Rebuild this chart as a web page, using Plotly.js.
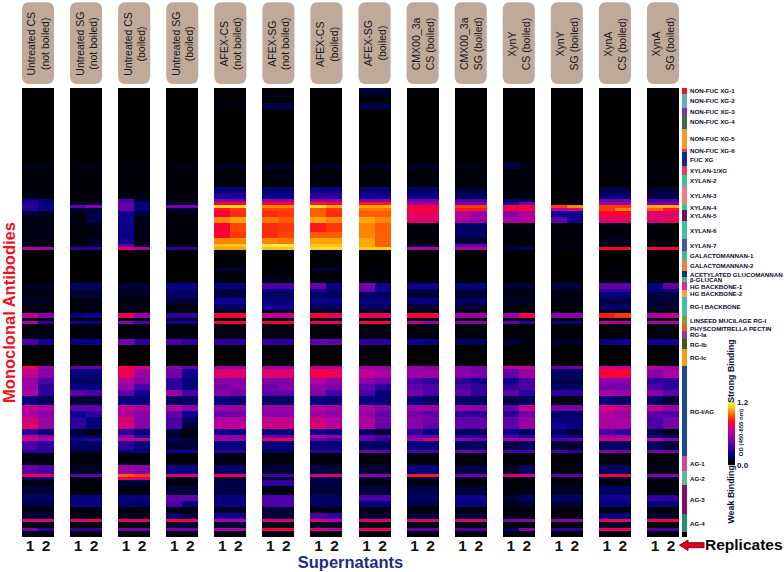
<!DOCTYPE html>
<html><head><meta charset="utf-8">
<script src="https://cdn.plot.ly/plotly-3.0.1.min.js"></script>
<style>html,body{margin:0;padding:0;background:#fff}#c{width:784px;height:572px}</style></head>
<body><div id="c"></div>
<script>
const panelNames=["Untreated CS<br>(not boiled)","Untreated SG<br>(not boiled)","Untreated CS<br>(boiled)","Untreated SG<br>(boiled)","AFEX-CS<br>(not boiled)","AFEX-SG<br>(not boiled)","AFEX-CS<br>(boiled)","AFEX-SG<br>(boiled)","CMX00_3a<br>CS (boiled)","CMX00_3a<br>SG (boiled)","XynY<br>CS (boiled)","XynY<br>SG (boiled)","XynA<br>CS (boiled)","XynA<br>SG (boiled)"];
const replicateLabels=["1","2"];
// number of antibody rows sharing each value
const bandRows=[2,1,2,2,18,2,2,1,3, 2,2,1,1,1,1,2,2,3,2,2,1,1, 6,1,2,1,1,2, 1,2,2,2,1, 2,1,1,5,2,7, 1,3,2,2,2,3,2,2,2,2,2,1,1,3,1,4, 3,1,1,2,3,2,2,2,2,1,2,1,2];
const ut_cs_nb_1=[0,0,0,0,0,.06,.02,.03,.02, .03,.05,.25,.28,.3,.28,.1,.05,.05,.05,.05,.06,.62, 0,0,0,0,0,.08, .05,.05,.08,.05,.03, .65,.05,.6,.05,.35,0, .8,.65,.55,.55,.6,.2,.65,.6,.7,.72,.3,.6,.7,.35,.3,.05, .4,.8,.2,.05,.1,.15,.12,.05,.1,.7,.05,.45,.05];
const ut_cs_nb_2=[0,0,0,0,0,.06,.02,.03,.02, .03,.05,.18,.2,.22,.2,.08,.05,.05,.05,.05,.06,.58, 0,0,0,0,0,.08, .05,.05,.08,.05,.03, .5,.05,.3,.05,.25,0, .55,.5,.35,.3,.3,.15,.6,.5,.55,.55,.2,.5,.6,.3,.3,.05, .35,.75,.2,.05,.1,.15,.12,.05,.1,.7,.05,.3,.05];
const ut_sg_nb_1=[0,0,0,0,0,.05,.01,.02,.01, .02,.03,0,.1,.4,.1,.05,.05,.03,.03,.05,.05,.3, 0,0,0,0,0,.15, .1,.1,.05,.05,.03, .2,.05,.25,.03,.2,0, .4,.2,.15,.2,.4,.1,.4,.25,.3,.3,.1,.15,.25,.15,.1,.03, .08,.4,.05,.02,.02,.2,.2,.03,.05,.7,.05,.3,.03];
const ut_sg_nb_2=[0,0,0,0,0,.05,.01,.02,.01, .02,.03,0,.1,.5,.1,.12,.12,.05,.03,.08,.08,.3, 0,0,0,0,0,.15, .1,.1,.05,.05,.03, .25,.05,.2,.03,.22,0, .4,.2,.15,.2,.35,.1,.4,.3,.2,.2,.05,.15,.3,.15,.1,.03, .08,.4,.05,.02,.02,.2,.2,.03,.05,.75,.05,.3,.03];
const ut_cs_b_1=[0,0,0,0,0,.03,.01,.02,.01, .02,.05,.35,.4,.4,.4,.25,.25,.22,.2,.25,.4,.72, 0,0,0,0,0,.1, .08,.08,.05,.05,.03, .75,.03,.5,.03,.45,0, .8,.75,.6,.55,.4,.2,.65,.6,.7,.7,.3,.5,.65,.3,.2,.03, .55,.95,.75,.1,.05,.2,.18,.03,.08,.75,.05,.45,.03];
const ut_cs_b_2=[0,0,0,0,0,.03,.01,.02,.01, .02,.05,.1,.2,.2,.2,.1,.05,.05,.05,.05,.08,.6, 0,0,0,0,0,.1, .08,.08,.05,.05,.03, .55,.03,.35,.03,.3,0, .7,.55,.5,.35,.25,.2,.6,.5,.5,.5,.2,.3,.65,.2,.2,.03, .5,.9,.7,.1,.05,.2,.15,.03,.08,.75,.05,.45,.03];
const ut_sg_b_1=[0,0,0,0,0,.05,.01,.02,.01, .02,.02,.05,.1,.45,.1,.05,.03,.03,.03,.03,.05,.3, 0,0,0,0,0,.22, .15,.15,.1,.05,.03, .3,.1,.25,.03,.35,0, .5,.45,.3,.3,.55,.15,.6,.4,.35,.35,.1,.1,.15,.1,.25,.03, .2,.7,.05,.05,.1,.4,.35,.05,.2,.8,.1,.45,.03];
const ut_sg_b_2=[0,0,0,0,0,.05,.01,.02,.01, .02,.02,.05,.1,.45,.1,.05,.03,.03,.03,.03,.05,.3, 0,0,0,0,0,.22, .15,.15,.1,.05,.03, .3,.1,.25,.03,.3,0, .4,.25,.2,.2,.35,.15,.5,.25,.15,.1,.05,.05,.1,.1,.25,.03, .2,.7,.05,.05,.1,.4,.2,.05,.1,.75,.1,.45,.03];
const af_cs_nb_1=[0,0,.02,.03,0,.08,.02,.05,.02, .2,.28,.5,.82,1.14,.85,.8,1,.8,.82,1,1.1,1.05, .02,.1,.02,.03,.02,.2, .1,.12,.25,.15,.05, .8,.05,.8,.05,.3,0, .55,.72,.5,.45,.5,.2,.55,.42,.62,.65,.25,.55,.55,.2,.3,.05, .15,.75,.1,.12,.12,.2,.2,.08,.25,.6,.1,.6,.05];
const af_cs_nb_2=[0,0,.02,.03,0,.08,.02,.05,.02, .2,.28,.45,.82,1.14,.9,.88,1.05,.92,.9,1,1.1,1.05, .02,.1,.02,.03,.02,.2, .1,.12,.25,.15,.05, .8,.05,.8,.05,.3,0, .55,.72,.5,.5,.45,.18,.55,.45,.62,.66,.2,.5,.55,.2,.3,.05, .15,.75,.1,.12,.12,.2,.2,.08,.25,.6,.1,.6,.05];
const af_sg_nb_1=[0,.08,.02,.12,0,.08,.02,.08,.02, .18,.22,.55,.8,1,.92,.88,.98,.88,.88,1,1.18,1.1, 0,.03,.02,.08,.02,.35, .2,.15,.2,.25,.05, .65,.05,.8,.05,.3,.03, .55,.72,.48,.42,.4,.16,.55,.5,.66,.68,.2,.45,.75,.2,.15,.03, .1,.35,.1,.3,.05,.35,.35,.1,.1,.7,.05,.8,.05];
const af_sg_nb_2=[0,.08,.02,.12,0,.08,.02,.08,.02, .18,.22,.55,.8,1,.92,.9,.95,.9,.92,.98,1.18,1.1, 0,.03,.02,.08,.02,.35, .2,.15,.2,.25,.05, .65,.05,.8,.05,.3,.03, .55,.72,.48,.5,.4,.16,.55,.5,.66,.68,.2,.4,.75,.2,.15,.03, .1,.35,.1,.3,.05,.35,.35,.1,.1,.7,.05,.8,.05];
const af_cs_b_1=[0,0,0,0,0,.08,.02,.05,.02, .22,.3,.55,.85,1.15,.95,.95,1.05,.85,.95,1.05,1.1,1.15, .02,.1,.02,.03,.02,.42, .25,.15,.22,.15,.05, .8,.05,.75,.03,.4,0, .6,.78,.62,.52,.48,.2,.62,.56,.68,.72,.25,.6,.4,.2,.3,.03, .12,.7,.12,.12,.1,.15,.15,.05,.35,.7,.08,.7,.05];
const af_cs_b_2=[0,0,0,0,0,.08,.02,.05,.02, .22,.3,.55,.8,1.05,.9,.88,1,.9,.95,1.05,1.1,1.15, .02,.1,.02,.03,.02,.22, .15,.15,.22,.15,.05, .75,.05,.75,.03,.4,0, .6,.76,.52,.48,.35,.18,.58,.52,.62,.65,.2,.55,.35,.2,.3,.03, .1,.7,.12,.12,.1,.15,.15,.05,.3,.65,.08,.65,.05];
const af_sg_b_1=[.1,.05,.02,.12,0,.08,.02,.05,.02, .18,.25,.5,.85,1.05,.98,.95,1.05,1,1,1.05,1.05,1.12, 0,.03,.02,.03,.02,.45, .4,.15,.2,.15,.05, .75,.05,.8,.05,.3,.02, .55,.65,.5,.4,.35,.2,.6,.55,.6,.6,.15,.4,.4,.15,.45,.03, .1,.55,.1,.05,.1,.35,.2,.05,.1,.72,.05,.75,.03];
const af_sg_b_2=[.1,.05,.02,.12,0,.08,.02,.05,.02, .18,.25,.5,.85,1.05,.98,.95,1,.95,.95,.95,.95,1.12, 0,.03,.02,.03,.02,.25, .25,.15,.2,.15,.05, .75,.05,.8,.05,.3,.02, .55,.6,.45,.3,.2,.2,.5,.4,.45,.4,.1,.35,.3,.15,.4,.03, .1,.5,.1,.05,.1,.35,.2,.05,.1,.72,.05,.75,.03];
const cmx_cs_1=[0,0,0,0,0,.08,.02,.03,.02, .15,.22,.45,.55,.8,.8,.75,.72,.02,.02,.02,.1,.6, 0,.02,0,.02,0,.25, .12,.1,.2,.1,.03, .8,.05,.65,.03,.25,0, .55,.55,.35,.4,.45,.2,.55,.45,.5,.5,.3,.45,.55,.2,.35,.03, .2,.85,.1,.05,.12,.15,.12,.03,.1,.7,.05,.4,.03];
const cmx_cs_2=[0,0,0,0,0,.08,.02,.03,.02, .15,.22,.45,.55,.8,.8,.75,.72,.02,.02,.02,.1,.6, 0,.02,0,.02,0,.25, .12,.1,.2,.1,.03, .8,.05,.55,.03,.2,0, .5,.55,.3,.35,.35,.15,.55,.4,.45,.4,.2,.4,.7,.2,.35,.03, .2,.85,.1,.05,.12,.15,.12,.03,.1,.7,.05,.4,.03];
const cmx_sg_1=[0,0,0,0,0,.06,.02,.02,.02, .1,.15,.35,.45,.9,.85,.65,.6,.15,.15,.1,.4,.6, 0,.02,0,.02,0,.2, .12,.1,.15,.1,.03, .55,.05,.5,.03,.15,0, .5,.5,.3,.35,.4,.15,.55,.3,.4,.4,.15,.3,.5,.15,.45,.03, .12,.45,.08,.03,.1,.25,.2,.03,.1,.7,.05,.35,.03];
const cmx_sg_2=[0,0,0,0,0,.06,.02,.02,.02, .1,.15,.35,.45,.9,.85,.55,.55,.15,.15,.1,.4,.6, 0,.02,0,.02,0,.2, .12,.1,.15,.1,.03, .55,.05,.5,.03,.15,0, .45,.45,.25,.3,.3,.15,.5,.3,.4,.4,.15,.3,.45,.15,.4,.03, .12,.45,.08,.03,.1,.25,.2,.03,.1,.7,.05,.35,.03];
const xyny_cs_1=[0,0,0,0,0,.12,.02,.02,.02, .03,.05,.15,.25,.8,.8,.5,.6,.02,.02,.02,.03,.12, 0,0,0,0,0,.1, .05,.05,.08,.05,.02, .55,.05,.4,.02,.1,0, .65,.4,.25,.3,.4,.12,.4,.3,.4,.4,.25,.35,.6,.12,.35,.02, .08,.7,.05,.03,.03,.1,.08,.02,.05,.45,.03,.15,.03];
const xyny_cs_2=[0,0,0,0,0,.06,.02,.02,.02, .03,.05,.15,.45,.8,.8,.6,.62,.02,.02,.02,.03,.15, 0,0,0,0,0,.1, .05,.05,.08,.05,.02, .78,.05,.3,.02,.05,0, .65,.55,.35,.35,.3,.15,.65,.45,.55,.55,.15,.3,.6,.15,.35,.02, .15,.7,.05,.03,.05,.15,.1,.02,.05,.5,.03,.5,.03];
const xyny_sg_1=[0,0,0,0,0,.03,.01,.01,.01, 0,.02,.03,.05,.9,.65,.25,.4,.02,.02,.02,.03,.05, 0,0,0,0,0,.12, .05,.04,.05,.03,.02, .5,.05,.2,.02,.08,0, .4,.15,.12,.15,.3,.05,.45,.15,.2,.25,.15,.25,.35,.1,.35,.02, .05,.4,.03,.03,.08,.15,.1,.02,.03,.5,.03,.3,.02];
const xyny_sg_2=[0,0,0,0,0,.03,.01,.01,.01, 0,.02,.03,.05,1,.7,.25,.25,.02,.02,.02,.03,.05, 0,0,0,0,0,.12, .05,.04,.05,.03,.02, .5,.05,.2,.02,.08,0, .45,.15,.12,.15,.3,.05,.45,.15,.2,.2,.1,.2,.4,.1,.3,.02, .05,.4,.03,.03,.08,.15,.1,.02,.03,.5,.03,.3,.02];
const xyna_cs_1=[0,0,0,0,0,.03,.01,.03,.01, .12,.18,.45,.55,.9,.9,.82,.72,.03,.03,.08,.03,.82, 0,.02,.02,.02,.02,.4, .3,.2,.12,.15,.05, .85,.05,.65,.02,.2,0, .7,.8,.5,.45,.6,.2,.7,.6,.6,.6,.35,.55,.7,.15,.5,.03, .15,.8,.1,.03,.15,.25,.2,.03,.2,.75,.08,.75,.03];
const xyna_cs_2=[0,0,0,0,0,.03,.01,.03,.01, .12,.2,.45,.55,.9,1,.82,.72,.03,.03,.08,.03,.82, 0,.02,.02,.02,.02,.4, .3,.2,.12,.15,.05, .9,.05,.6,.02,.25,0, .65,.8,.5,.45,.55,.15,.65,.55,.6,.6,.3,.55,.7,.15,.45,.03, .15,.8,.1,.03,.15,.25,.2,.03,.2,.75,.08,.75,.03];
const xyna_sg_1=[0,0,0,0,0,.03,.01,.02,.01, .1,.12,.35,.45,1.05,.95,.72,.7,.02,.02,.02,.03,.8, 0,0,0,0,0,.2, .2,.12,.1,.1,.03, .6,.03,.6,.02,.25,0, .65,.5,.3,.35,.5,.15,.65,.4,.35,.35,.12,.25,.65,.15,.45,.02, .05,.5,.1,.02,.05,.3,.2,.02,.1,.78,.03,.35,.03];
const xyna_sg_2=[0,0,0,0,0,.03,.01,.02,.01, .1,.12,.35,.45,1.05,.85,.72,.75,.02,.02,.02,.03,.8, 0,0,0,0,0,.4, .2,.12,.1,.1,.03, .65,.03,.6,.02,.25,.02, .55,.6,.3,.3,.4,.1,.55,.35,.45,.45,.05,.15,.5,.1,.45,.02, .05,.5,.1,.02,.05,.3,.2,.02,.1,.78,.03,.35,.03];
const columns=[ut_cs_nb_1,ut_cs_nb_2,ut_sg_nb_1,ut_sg_nb_2,ut_cs_b_1,ut_cs_b_2,ut_sg_b_1,ut_sg_b_2,af_cs_nb_1,af_cs_nb_2,af_sg_nb_1,af_sg_nb_2,af_cs_b_1,af_cs_b_2,af_sg_b_1,af_sg_b_2,cmx_cs_1,cmx_cs_2,cmx_sg_1,cmx_sg_2,xyny_cs_1,xyny_cs_2,xyny_sg_1,xyny_sg_2,xyna_cs_1,xyna_cs_2,xyna_sg_1,xyna_sg_2];
const groupNames=["NON-FUC XG-1","NON-FUC XG-2","NON-FUC XG-3","NON-FUC XG-4","NON-FUC XG-5","NON-FUC XG-6","FUC XG","XYLAN-1/XG","XYLAN-2","XYLAN-3","XYLAN-4","XYLAN-5","XYLAN-6","XYLAN-7","GALACTOMANNAN-1","GALACTOMANNAN-2","ACETYLATED GLUCOMANNAN","β-GLUCAN","HG BACKBONE-1","HG BACKBONE-2","RG-I BACKBONE","LINSEED MUCILAGE RG-I","PHYSCOMITRELLA PECTIN","RG-Ia","RG-Ib","RG-Ic","RG-I/AG","AG-1","AG-2","AG-3","AG-4",""];
const groupRows=[1.9,4.7,2.2,4.8,6.7,1.1,4.7,2.8,4.2,5.6,2.2,3.6,6.1,3.7,3.3,3.6,2,1.7,2.5,2.5,6.4,3,1.9,2.6,3.5,5.7,29.9,5,4.8,9.7,5.9,1.6];
const groupColors=["#f01020","#5fb0b0","#a020c0","#3f6a50","#f09a30","#d04060","#102a8a","#e0405a","#3fbfa0","#f08088","#3fbfa0","#701060","#3fbfa0","#5050a0","#3fb8a0","#f0803a","#103090","#60b080","#d03090","#f0a050","#3fbfa8","#8a9a30","#f05a28","#8a3a9a","#3f5a18","#f0a010","#1c4a90","#d04a90","#60b898","#801060","#2a8a70","#000000"];

const W=784,H=572,T=87.5,B=537.5,L=22,PR=679;
const px=v=>(v-L)/(W-L), py=v=>(B-v)/(B-T);
const x=[],z=[],y=[];
for(let i=0;i<41;i++)x.push(i+.5);
let r=0;
bandRows.forEach((n,b)=>{for(let k=0;k<n;k++){y.push(r+.5);r++;
  const row=[];for(let i=0;i<41;i++){row.push(i%3===2?null:columns[(i-i%3)/3*2+i%3][b]);}
  z.push(row);}});
const tickvals=[],ticktext=[];
panelNames.forEach((_,p)=>replicateLabels.forEach((l,k)=>{tickvals.push(3*p+k+.5);ticktext.push(l);}));
const base=[];let acc=0;groupRows.forEach(n=>{base.push(acc);acc+=n;});
const shapes=panelNames.map((_,p)=>{
  const a=3*p,b=3*p+2,m=.45,t=1.5,e=83.5,ry=8;
  return{type:'path',xref:'x',yref:'paper',line:{width:0},fillcolor:'#bfa999',layer:'below',
   path:`M ${a+m} ${py(t)} L ${b-m} ${py(t)} Q ${b} ${py(t)} ${b} ${py(t+ry)} L ${b} ${py(e-ry)} Q ${b} ${py(e)} ${b-m} ${py(e)} L ${a+m} ${py(e)} Q ${a} ${py(e)} ${a} ${py(e-ry)} L ${a} ${py(t+ry)} Q ${a} ${py(t)} ${a+m} ${py(t)} Z`};
});
const pts=[[679.5,545.7],[688,540.5],[688,543.2],[704,543.2],[704,548.2],[688,548.2],[688,551]];
shapes.push({type:'path',xref:'paper',yref:'paper',fillcolor:'#e2001a',line:{color:'#7a1020',width:1},
 path:'M '+pts.map(q=>px(q[0])+' '+py(q[1])).join(' L ')+' Z'});
const ff='"Liberation Sans",Arial,sans-serif';
const ann=panelNames.map((t,p)=>({xref:'x',yref:'paper',x:3*p+1,y:py(43),xanchor:'center',yanchor:'middle',text:t,textangle:-90,showarrow:false,font:{family:ff,size:10.5,color:'#161616'},align:'center'}));
groupNames.forEach((t,i)=>{if(t)ann.push({xref:'paper',yref:'y',x:px(688),y:base[i]+groupRows[i]/2,xanchor:'left',yanchor:'middle',text:t,showarrow:false,font:{family:ff,size:6.2,weight:700,color:'#0c0c28'}});});
const lab=(t,xp,yp,size,color,rot)=>ann.push({xref:'paper',yref:'paper',x:px(xp),y:py(yp),xanchor:'center',yanchor:'middle',text:t,textangle:rot,showarrow:false,font:{family:ff,size,weight:700,color}});
lab("Replicates",743.5,545.5,15.5,'#0a0a0a',0);
lab("Strong Binding",731,371,8.8,'#10103a',-90);
lab("Weak Binding",731,495,8.9,'#10103a',-90);
lab("OD (450-655 nm)",740.5,433,6,'#10103a',-90);
const cs=[[0,'#000000'],[.06,'#00001c'],[.12,'#000060'],[.2,'#0a0090'],[.3,'#5000a8'],[.42,'#8c00a8'],[.52,'#b400a0'],[.6,'#e0006c'],[.68,'#ff0030'],[.76,'#ff4000'],[.84,'#ff8c00'],[.92,'#ffc814'],[1,'#fff050']];
Plotly.newPlot('c',[
 {type:'heatmap',x,y,z,zmin:0,zmax:1.2,colorscale:cs,hoverongaps:false,
  colorbar:{x:px(727.7),xanchor:'left',y:py(402.7),yanchor:'top',lenmode:'pixels',len:63,thicknessmode:'pixels',thickness:7.3,xpad:0,ypad:0,outlinewidth:0,borderwidth:0,ticks:'',
   tickvals:[0,1.2],ticktext:['0.0','1.2'],tickfont:{family:ff,size:8,weight:700,color:'#10103a'},ticklabelposition:'outside'}},
 {type:'bar',xaxis:'x2',yaxis:'y',x:groupRows.map(()=>.5),y:groupRows,base,width:1,marker:{color:groupColors,line:{width:0}},hoverinfo:'skip',showlegend:false}
],{
 width:W,height:H,paper_bgcolor:'#fff',plot_bgcolor:'#fff',showlegend:false,bargap:0,
 margin:{l:L,r:0,t:T,b:H-B,pad:0},
 xaxis:{domain:[0,px(PR)],range:[0,41],tickmode:'array',tickvals,ticktext,ticks:'',ticklabelstandoff:-3,showgrid:false,zeroline:false,showline:false,tickfont:{family:ff,size:15.5,weight:700,color:'#111'},
   title:{text:'Supernatants',font:{family:ff,size:16.5,weight:700,color:'#1a2f80'},standoff:2}},
 xaxis2:{domain:[px(681.7),px(687)],range:[0,1],visible:false,anchor:'y'},
 yaxis:{range:[150,0],visible:true,showticklabels:false,ticks:'',showgrid:false,zeroline:false,showline:false,
   title:{text:'Monoclonal Antibodies',font:{family:ff,size:16.5,weight:700,color:'#f01020'}}},
 shapes,annotations:ann
},{staticPlot:true,displayModeBar:false});
</script></body></html>
